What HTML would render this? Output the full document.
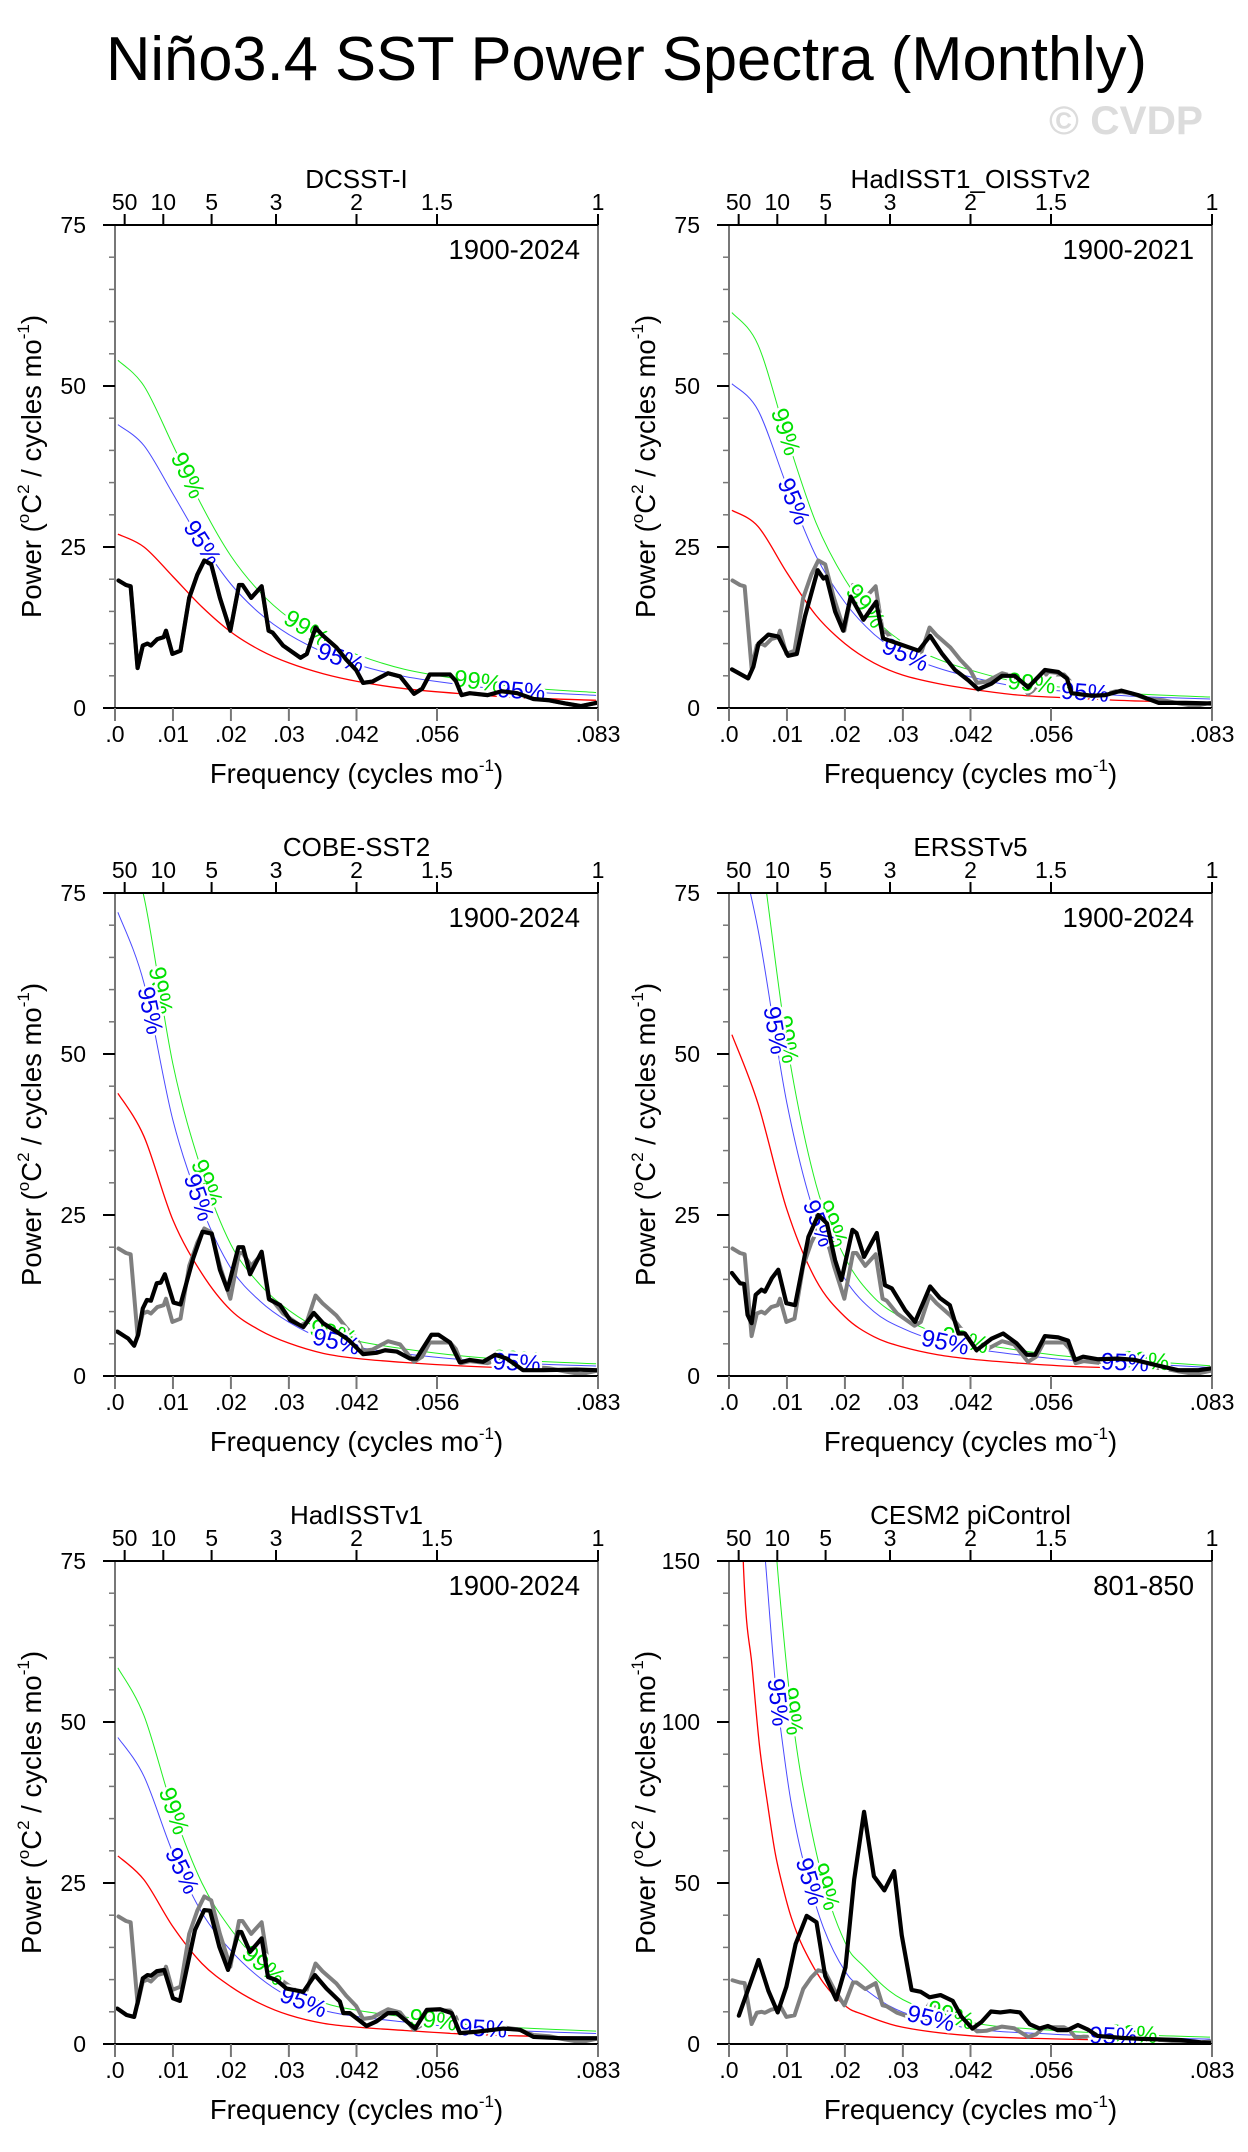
<!DOCTYPE html>
<html lang="en">
<head>
<meta charset="utf-8">
<title>Niño3.4 SST Power Spectra (Monthly)</title>
<style>
  html,body{margin:0;padding:0;background:#fff;}
  svg{display:block;font-family:"Liberation Sans",Arial,sans-serif;}
</style>
</head>
<body>
<svg id="fig" width="1248" height="2152" viewBox="0 0 1248 2152" xmlns="http://www.w3.org/2000/svg">
  <rect x="0" y="0" width="1248" height="2152" fill="#fff"/>
  <text x="106" y="80" font-size="62" textLength="1041" lengthAdjust="spacingAndGlyphs" fill="#000">Niño3.4 SST Power Spectra (Monthly)</text>
  <text x="1049" y="134" font-size="40" font-weight="bold" textLength="154" lengthAdjust="spacingAndGlyphs" fill="#dcdcdc">© CVDP</text>
</svg>
<script>
// ---------- data (cycles/mo frequency, power in °C^2/(cycles mo^-1)) ----------
// gray reference spectrum (DCSST-I)
const refFreq = [0.0006,0.0019,0.0027,0.0039,0.0048,0.0056,0.0062,0.0073,0.0084,0.0088,0.0099,0.0113,0.0128,0.0142,0.0154,0.0166,0.0181,0.0199,0.0214,0.0220,0.0235,0.0253,0.0265,0.0272,0.0290,0.0320,0.0331,0.0346,0.0358,0.0382,0.0399,0.0416,0.0428,0.0444,0.0471,0.0492,0.0516,0.0530,0.0543,0.0578,0.0588,0.0598,0.0612,0.0643,0.0667,0.0694,0.0722,0.0749,0.0777,0.0804,0.0831];
const refPower = [19.8,19.1,18.9,6.2,9.7,10.0,9.7,10.7,11.0,12.0,8.4,8.9,17.1,20.7,22.9,22.3,17.1,12.0,19.1,19.1,17.1,18.9,12.0,11.7,9.7,7.8,8.4,12.5,11.3,9.4,7.5,5.9,3.9,4.1,5.4,4.9,2.2,3.0,5.2,5.2,4.2,2.0,2.3,2.0,2.6,2.3,1.4,1.2,0.7,0.3,0.8];

// DCSST-I
const dcsstFreq = refFreq;
const dcsstPower = refPower;
const dcsstRedFreq = [0.0005,0.005,0.01,0.015,0.02,0.025,0.03,0.036,0.042,0.05,0.06,0.07,0.083];
const dcsstRedPower = [27,25,20.4,15.7,11.8,9.0,7.0,5.3,4.1,3.0,2.2,1.6,1.2];
const dcsstLab99 = [0.0125,0.0330,0.0626];
const dcsstLab95 = [0.0150,0.0389,0.0701];

// HadISST1_OISSTv2
const hadoiFreq = [0.0005,0.0033,0.0042,0.0051,0.0068,0.0085,0.0102,0.0117,0.0131,0.0153,0.0163,0.0168,0.0183,0.0197,0.0210,0.0232,0.0254,0.0266,0.0292,0.0327,0.0347,0.0367,0.0390,0.0413,0.0430,0.0453,0.0471,0.0493,0.0516,0.0545,0.0568,0.0583,0.0591,0.0626,0.0649,0.0677,0.0706,0.0741,0.0787,0.0833];
const hadoiPower = [6.0,4.6,6.4,10.0,11.4,11.1,8.1,8.4,14.2,21.4,20.1,20.4,15.0,12.0,17.3,13.7,16.5,10.8,10.0,8.9,11.2,8.5,5.9,4.3,2.9,3.8,5.0,5.0,3.2,5.9,5.6,4.6,2.3,1.9,2.0,2.7,2.0,0.8,0.8,0.7];
const hadoiRedFreq = [0.0005,0.005,0.01,0.015,0.02,0.025,0.03,0.036,0.042,0.05,0.06,0.07,0.083];
const hadoiRedPower = [30.7,28.2,21,14.4,10,7,5.1,3.8,2.9,2.0,1.5,1.1,0.85];
const hadoiLab99 = [0.0097,0.0235,0.0522];
const hadoiLab95 = [0.0111,0.0304,0.0614];

// COBE-SST2
const cobeFreq = [0.0004,0.0023,0.0033,0.0040,0.0048,0.0055,0.0062,0.0072,0.0079,0.0086,0.0101,0.0113,0.0135,0.0151,0.0167,0.0181,0.0194,0.0213,0.0221,0.0233,0.0253,0.0266,0.0285,0.0302,0.0325,0.0343,0.0359,0.0382,0.0403,0.0428,0.0451,0.0466,0.0486,0.0509,0.0520,0.0546,0.0558,0.0578,0.0595,0.0612,0.0635,0.0656,0.0676,0.0704,0.0739,0.0796,0.0831];
const cobePower = [6.9,5.8,4.7,6.4,10.5,11.8,11.7,14.4,14.5,15.8,11.4,11.1,18.3,22.4,22.1,16.5,13.4,20.0,20.0,15.8,19.3,11.9,11.0,8.7,7.6,9.8,8.2,6.9,5.6,3.4,3.6,4.0,3.8,2.7,2.7,6.4,6.4,5.2,2.1,2.5,2.2,3.3,2.7,0.9,0.9,1.0,0.9];
const cobeRedFreq = [0.0005,0.005,0.01,0.015,0.02,0.025,0.03,0.036,0.042,0.05,0.06,0.07,0.083];
const cobeRedPower = [43.9,37.2,24.2,15.9,10.2,7.1,5.1,3.5,2.7,2.1,1.55,1.2,0.95];
const cobeLab99 = [0.0078,0.0158,0.0377,0.0693];
const cobeLab95 = [0.0060,0.0144,0.0382,0.0693];

// ERSSTv5
const ersstFreq = [0.0005,0.0019,0.0026,0.0032,0.0039,0.0046,0.0056,0.0062,0.0074,0.0085,0.0099,0.0114,0.0137,0.0154,0.0169,0.0183,0.0194,0.0213,0.0220,0.0233,0.0255,0.0269,0.0281,0.0304,0.0321,0.0347,0.0364,0.0381,0.0396,0.0407,0.0427,0.0453,0.0473,0.0496,0.0514,0.0528,0.0545,0.0568,0.0585,0.0597,0.0611,0.0637,0.0672,0.0700,0.0741,0.0775,0.0810,0.0833];
const ersstPower = [16.0,14.4,14.3,9.5,8.2,12.6,13.4,13.1,15.2,16.5,11.3,11.0,21.6,25.0,23.7,18.0,14.9,22.7,22.2,18.5,22.2,14.1,13.6,10.2,8.4,13.9,12.1,11.0,6.6,6.6,4.0,5.8,6.6,5.1,3.3,3.3,6.2,6.0,5.5,2.5,3.0,2.6,2.7,2.5,1.6,0.9,0.9,1.2];
const ersstRedFreq = [0.0005,0.005,0.01,0.015,0.02,0.025,0.03,0.036,0.042,0.05,0.06,0.07,0.083];
const ersstRedPower = [53,42.3,25.8,14.9,9.2,6.1,4.5,3.3,2.6,2.0,1.45,1.2,0.8];
const ersstLab99 = [0.0099,0.0177,0.0407,0.0718];
const ersstLab95 = [0.0079,0.0154,0.0373,0.0683];

// HadISSTv1
const hadv1Freq = [0.0004,0.0020,0.0033,0.0040,0.0048,0.0056,0.0062,0.0072,0.0085,0.0100,0.0112,0.0138,0.0154,0.0164,0.0180,0.0195,0.0213,0.0218,0.0233,0.0253,0.0264,0.0279,0.0296,0.0325,0.0345,0.0365,0.0388,0.0394,0.0405,0.0434,0.0451,0.0471,0.0486,0.0518,0.0538,0.0561,0.0581,0.0595,0.0624,0.0670,0.0699,0.0722,0.0768,0.0831];
const hadv1Power = [5.5,4.5,4.2,6.8,10.2,10.7,10.6,11.3,11.5,7.1,6.7,17.7,20.8,20.7,15.1,11.5,17.4,17.4,14.3,16.4,10.4,9.9,8.6,8.1,10.7,8.6,6.6,4.8,4.8,2.8,3.5,4.8,4.8,2.4,5.3,5.4,4.8,1.7,1.9,2.4,2.2,1.1,0.9,0.9];
const hadv1RedFreq = [0.0005,0.005,0.01,0.015,0.02,0.025,0.03,0.036,0.042,0.05,0.06,0.07,0.083];
const hadv1RedPower = [29.2,25.5,18.2,12.5,8.9,6.3,4.5,3.2,2.6,2.1,1.55,1.25,1.0];
const hadv1Lab99 = [0.0101,0.0256,0.0549];
const hadv1Lab95 = [0.0115,0.0325,0.0635];

// CESM2 piControl
const cesmFreq = [0.0017,0.0051,0.0068,0.0084,0.0099,0.0115,0.0134,0.0151,0.0166,0.0185,0.0201,0.0216,0.0233,0.0250,0.0268,0.0285,0.0298,0.0315,0.0331,0.0346,0.0365,0.0386,0.0401,0.0420,0.0436,0.0452,0.0468,0.0485,0.0502,0.0519,0.0536,0.0550,0.0567,0.0584,0.0602,0.0619,0.0636,0.0677,0.0711,0.0780,0.0814,0.0833];
const cesmPower = [8.8,26.1,16.5,9.8,17.8,31.1,39.8,37.8,21.1,13.8,23.8,51.1,72.1,52.1,47.7,53.7,33.8,16.8,16.2,14.5,15.2,13.4,8.5,4.8,6.9,10.1,9.8,10.2,9.8,6.1,4.8,5.6,4.3,4.3,5.9,4.5,2.5,1.9,1.6,1.2,0.5,0.3];
const cesmRedFreq = [0.0006,0.0025,0.004,0.0053,0.0067,0.008,0.0094,0.0108,0.0128,0.0163,0.0201,0.0231,0.03,0.042,0.056,0.07,0.083];
const cesmRedPower = [260,148,117,92,74,59,48,39,30,19,11.8,9.2,5.2,2.5,1.6,1.1,0.8];
const cesmLab99 = [0.0108,0.0166,0.0382,0.0698];
const cesmLab95 = [0.0084,0.0139,0.0348,0.0663];

// significance multipliers applied to the red-noise spectrum
const sig95Factors = [1.63,1.64,1.64,1.64,1.63,1.9];
const sig99Factors = [2.0,2.0,2.0,2.0,2.0,2.65];

// axis tick labels
const bottomTickVals = [0,0.01,0.02,0.03,1/24,1/18,1/12];
const bottomTickLabels = [".0",".01",".02",".03",".042",".056",".083"];
const topTickPeriods = [50,10,5,3,2,1.5,1];
const topTickLabels = ["50","10","5","3","2","1.5","1"];
const panelTitles = ["DCSST-I","HadISST1_OISSTv2","COBE-SST2","ERSSTv5","HadISSTv1","CESM2 piControl"];
const panelPeriods = ["1900-2024","1900-2021","1900-2024","1900-2024","1900-2024","801-850"];
const panelYMax = [75,75,75,75,75,150];
const panelYMajor = [25,25,25,25,25,50];
const panelYMinor = [5,5,5,5,5,10];

// ---------- drawing ----------
const NS = "http://www.w3.org/2000/svg";
const svg = document.getElementById("fig");
const FMAX = 1/12, SIZE = 483;
const origins = [[115,225],[729,225],[115,893],[729,893],[115,1561],[729,1561]];
const series = [
  [dcsstFreq,dcsstPower,dcsstRedFreq,dcsstRedPower,dcsstLab99,dcsstLab95],
  [hadoiFreq,hadoiPower,hadoiRedFreq,hadoiRedPower,hadoiLab99,hadoiLab95],
  [cobeFreq,cobePower,cobeRedFreq,cobeRedPower,cobeLab99,cobeLab95],
  [ersstFreq,ersstPower,ersstRedFreq,ersstRedPower,ersstLab99,ersstLab95],
  [hadv1Freq,hadv1Power,hadv1RedFreq,hadv1RedPower,hadv1Lab99,hadv1Lab95],
  [cesmFreq,cesmPower,cesmRedFreq,cesmRedPower,cesmLab99,cesmLab95]
];
function mk(tag, attrs, parent){
  const e = document.createElementNS(NS, tag);
  for (const k in attrs) e.setAttribute(k, attrs[k]);
  (parent||svg).appendChild(e);
  return e;
}
function interp(xs, ys, x){
  if (x <= xs[0]) return ys[0];
  for (let i=1;i<xs.length;i++){
    if (x <= xs[i]){ const t=(x-xs[i-1])/(xs[i]-xs[i-1]); return ys[i-1]+t*(ys[i]-ys[i-1]); }
  }
  return ys[ys.length-1];
}
function smoothPath(pts){
  let d = "M"+pts[0][0].toFixed(2)+","+pts[0][1].toFixed(2);
  for (let i=0;i<pts.length-1;i++){
    const p0=pts[Math.max(0,i-1)], p1=pts[i], p2=pts[i+1], p3=pts[Math.min(pts.length-1,i+2)];
    const c1=[p1[0]+(p2[0]-p0[0])/6, p1[1]+(p2[1]-p0[1])/6];
    const c2=[p2[0]-(p3[0]-p1[0])/6, p2[1]-(p3[1]-p1[1])/6];
    d += " C"+c1[0].toFixed(2)+","+c1[1].toFixed(2)+" "+c2[0].toFixed(2)+","+c2[1].toFixed(2)+" "+p2[0].toFixed(2)+","+p2[1].toFixed(2);
  }
  return d;
}

for (let p=0;p<6;p++){
  const x0 = origins[p][0], y0 = origins[p][1];
  const yMax = panelYMax[p];
  const xs = f => x0 + f/FMAX*SIZE;
  const ys = v => y0 + SIZE - v/yMax*SIZE;
  const [bF,bV,rF,rV,l99,l95] = series[p];

  const g = mk("g", {});
  
  

  const clip = mk("clipPath", {id:"clip"+p}, g);
  mk("rect", {x:x0, y:y0, width:SIZE, height:SIZE}, clip);
  const plot = mk("g", {"clip-path":"url(#clip"+p+")"}, g);
  
  

  const curves = [[1,"#ff0000",1.3,"red-noise-curve"],[sig95Factors[p],"#4a4aff",1,"significance-95-curve"],[sig99Factors[p],"#22ee22",1,"significance-99-curve"]];
  curves.forEach(c => {
    const pts = rF.map((f,i)=>[xs(f), ys(rV[i]*c[0])]);
    const path = mk("path", {d:smoothPath(pts), fill:"none", stroke:c[1], "stroke-width":c[2]}, plot);
    
    
  });

  const gpts = refFreq.map((f,i)=>xs(f).toFixed(2)+","+ys(refPower[i]).toFixed(2)).join(" ");
  const gl = mk("polyline", {points:gpts, fill:"none", stroke:"#7f7f7f", "stroke-width":4, "stroke-linejoin":"round", "stroke-linecap":"round"}, plot);
  
  

  const labSets = [[l99,sig99Factors[p],"#00e000","99%"],[l95,sig95Factors[p],"#0000ee","95%"]];
  labSets.forEach(ls => {
    ls[0].forEach(f => {
      const v = interp(rF, rV, f)*ls[1];
      const xa = xs(f-0.0008), ya = ys(interp(rF,rV,f-0.0008)*ls[1]);
      const xb = xs(f+0.0008), yb = ys(interp(rF,rV,f+0.0008)*ls[1]);
      const ang = Math.atan2(yb-ya, xb-xa)*180/Math.PI;
      const t = mk("text", {x:0, y:0, transform:"translate("+xs(f).toFixed(2)+","+ys(v).toFixed(2)+") rotate("+ang.toFixed(1)+")", "font-size":24, fill:ls[2], "text-anchor":"middle", "dominant-baseline":"central", stroke:"#fff", "stroke-width":5, "paint-order":"stroke"}, plot);
      t.textContent = ls[3];
      
      
    });
  });

  const bpts = bF.map((f,i)=>xs(f).toFixed(2)+","+ys(bV[i]).toFixed(2)).join(" ");
  const bl = mk("polyline", {points:bpts, fill:"none", stroke:"#000", "stroke-width":4.2, "stroke-linejoin":"round", "stroke-linecap":"round"}, plot);
  
  

  mk("line", {x1:x0, y1:y0, x2:x0, y2:y0+SIZE, stroke:"#777", "stroke-width":2}, g);
  mk("line", {x1:x0+SIZE, y1:y0, x2:x0+SIZE, y2:y0+SIZE, stroke:"#777", "stroke-width":2}, g);
  mk("line", {x1:x0, y1:y0, x2:x0+SIZE, y2:y0, stroke:"#000", "stroke-width":2}, g);
  mk("line", {x1:x0, y1:y0+SIZE, x2:x0+SIZE, y2:y0+SIZE, stroke:"#000", "stroke-width":2}, g);

  for (let v=0; v<=yMax+1e-9; v+=panelYMinor[p]){
    const major = Math.abs(v/panelYMajor[p]-Math.round(v/panelYMajor[p]))<1e-9;
    const y = ys(v);
    mk("line", {x1:x0-(major?12:6), y1:y, x2:x0, y2:y, stroke:major?"#000":"#777", "stroke-width":major?2:1.5}, g);
    if (major){
      const t = mk("text", {x:x0-29, y:y+8, "font-size":23, "text-anchor":"end", fill:"#000"}, g);
      t.textContent = String(v);
      
      
    }
  }
  bottomTickVals.forEach((f,i)=>{
    const x = xs(f);
    mk("line", {x1:x, y1:y0+SIZE, x2:x, y2:y0+SIZE+13, stroke:"#777", "stroke-width":2}, g);
    const t = mk("text", {x:x, y:y0+SIZE+34, "font-size":23, "text-anchor":"middle", fill:"#000"}, g);
    t.textContent = bottomTickLabels[i];
    
    
  });
  topTickPeriods.forEach((yr,i)=>{
    const x = xs(1/(yr*12));
    mk("line", {x1:x, y1:y0, x2:x, y2:y0-11, stroke:"#000", "stroke-width":2}, g);
    const t = mk("text", {x:x, y:y0-15, "font-size":23, "text-anchor":"middle", fill:"#000"}, g);
    t.textContent = topTickLabels[i];
    
    
  });

  const tt = mk("text", {x:x0+SIZE/2, y:y0-37, "font-size":26, "text-anchor":"middle", fill:"#000"}, g);
  tt.textContent = panelTitles[p];
  
  

  const pt = mk("text", {x:x0+465, y:y0+34, "font-size":27.5, "text-anchor":"end", fill:"#000"}, g);
  pt.textContent = panelPeriods[p];
  
  

  const xt = mk("text", {x:x0+SIZE/2, y:y0+558, "font-size":27.5, "text-anchor":"middle", fill:"#000"}, g);
  xt.innerHTML = 'Frequency (cycles mo<tspan font-size="17" dy="-12">-1</tspan><tspan dy="12">)</tspan>';
  
  

  const yt = mk("text", {x:0, y:0, transform:"translate("+(x0-74)+","+(y0+SIZE/2)+") rotate(-90)", "font-size":27.5, "text-anchor":"middle", fill:"#000"}, g);
  yt.innerHTML = 'Power (<tspan font-size="17" dy="-12">o</tspan><tspan dy="12">C</tspan><tspan font-size="17" dy="-12">2</tspan><tspan dy="12"> / cycles mo</tspan><tspan font-size="17" dy="-12">-1</tspan><tspan dy="12">)</tspan>';
  
  
}
</script>
</body>
</html>
